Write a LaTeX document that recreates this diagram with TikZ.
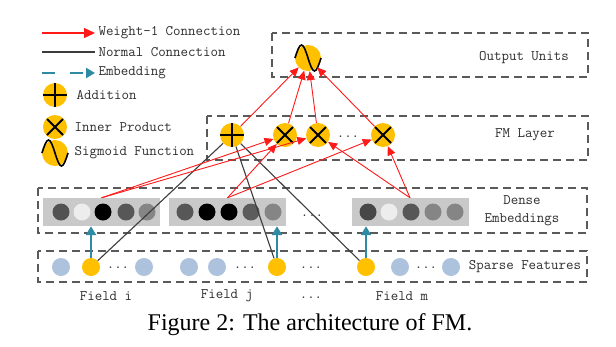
\documentclass[tikz,border=0pt]{standalone}
\usepackage{fontspec}
\setmainfont{Liberation Serif}
\usepackage{tikz}
\usetikzlibrary{arrows.meta,positioning}
\usepackage{xcolor}

\definecolor{fmred}{HTML}{FF1A1A}
\definecolor{fmgold}{HTML}{FFC000}
\definecolor{fmteal}{HTML}{2E8BA3}
\definecolor{fmblue}{HTML}{ADC2DD}
\definecolor{fmbox}{HTML}{5A5A5A}
\definecolor{fmvec}{HTML}{C9C9C9}
\definecolor{fmline}{HTML}{3C3C3C}

\tikzset{
  >={Triangle[length=9pt,width=8pt]},
}

\begin{document}
\begin{tikzpicture}[
  x=1pt,y=-1pt,
  every node/.style={font=\fontsize{14.5}{18}\selectfont\ttfamily, text=black!82},
  layer/.style={draw=fmbox, line width=1.8pt, dash pattern=on 8pt off 5pt},
  unit/.style={circle, fill=fmgold, minimum size=24pt, inner sep=0pt},
  addunit/.style={unit, path picture={
      \draw[line width=1.6pt] (path picture bounding box.north) -- (path picture bounding box.south)
        (path picture bounding box.west) -- (path picture bounding box.east);}},
  dotunit/.style={unit, path picture={
      \draw[line width=1.8pt] ([shift={(-8,-8)}]path picture bounding box.center) -- ([shift={(8,8)}]path picture bounding box.center)
        ([shift={(-8,8)}]path picture bounding box.center) -- ([shift={(8,-8)}]path picture bounding box.center);}},
  sigunit/.style={unit, minimum size=26pt},
  wave/.style={line width=1.6pt},
  vec/.style={fill=fmvec, minimum width=117pt, minimum height=28pt, inner sep=0pt},
  emb/.style={circle, fill=#1, minimum size=17pt, inner sep=0pt},
  feat/.style={circle, fill=#1, minimum size=18pt, inner sep=0pt},
  weight/.style={->, draw=fmred, line width=0.9pt},
  normal/.style={draw=fmline, line width=1.1pt},
  embed/.style={-{Triangle[length=9pt,width=10pt]}, draw=fmteal, line width=2.5pt},
  dots/.style={inner sep=0pt}
]

\fill[white] (0,0) rectangle (616,346);
\useasboundingbox (0,0) rectangle (616,346);

% Legend
\coordinate (lw0) at (42,33);
\coordinate (ln0) at (42,52);
\coordinate (le0) at (42,73);
\node[anchor=west] (lw) at (95,33) {Weight-1 Connection};
\node[anchor=west] (ln) at (95,52) {Normal Connection};
\node[anchor=west] (le) at (95,73) {Embedding};
\node[addunit] (ladd) at (55,95) {};
\node[dotunit] (ldot) at (55,127) {};
\node[sigunit] (lsig) at (55,153) {};
\node[right=6pt of ladd] (laddtxt) {Addition};
\node[right=4pt of ldot] (ldottxt) {Inner Product};
\node[right=3pt of lsig] (lsigtxt) {Sigmoid Function};
\draw[wave] ([xshift=-13pt]lsig.center) sin ++(6.5,-13) cos ++(6.5,13) sin ++(6.5,13) cos ++(6.5,-13);

\draw[weight, line width=1.2pt, -{Triangle[length=11pt,width=10pt]}] (lw0) -- (lw.west);
\draw[normal, line width=1.4pt] (ln0) -- (ln.west);
\draw[embed, dash pattern=on 13pt off 15pt] (le0) -- (le.west);

% Layers
\draw[layer] (272,33) rectangle (588,77);
\draw[layer] (207,116) rectangle (588,160);
\draw[layer] (38,188) rectangle (587,233);
\draw[layer] (38,251) rectangle (587,282);

\node (outtxt) at (524,58) {Output Units};
\node (fmtxt) at (525,135) {FM Layer};
\node[align=center] (densetxt) at (522,211) {Dense\\Embeddings};
\node (sparsetxt) at (525,267) {Sparse Features};

% Output unit
\node[sigunit] (sig) at (308,58) {};
\draw[wave] ([xshift=-13pt]sig.center) sin ++(6.5,-13) cos ++(6.5,13) sin ++(6.5,13) cos ++(6.5,-13);

% FM layer
\node[addunit] (add) at (232,135) {};
\node[dotunit] (ij) at (285,135) {};
\node[dotunit] (im) at (318,135) {};
\node[dots] (fmdots) at (348,137) {...};
\node[dotunit] (jm) at (383,135) {};

% Dense embeddings
\node[vec] (vi) at (101.5,212) {};
\node[vec] (vj) at (227.5,212) {};
\node[dots] (vdots) at (312,216) {...};
\node[vec] (vm) at (410,212) {};

\node[emb=black!68] (i1) at (61,212) {};
\node[emb=black!7] (i2) at (82,212) {};
\node[emb=black] (i3) at (103,212) {};
\node[emb=black!66] (i4) at (126,212) {};
\node[emb=black!48] (i5) at (147,212) {};

\node[emb=black!66] (j1) at (185,212) {};
\node[emb=black] (j2) at (207,212) {};
\node[emb=black] (j3) at (229,212) {};
\node[emb=black!64] (j4) at (251,212) {};
\node[emb=black!48] (j5) at (273,212) {};

\node[emb=black!72] (m1) at (368,212) {};
\node[emb=black!7] (m2) at (389,212) {};
\node[emb=black!66] (m3) at (411,212) {};
\node[emb=black!48] (m4) at (433,212) {};
\node[emb=black!48] (m5) at (455,212) {};

% Sparse features
\node[feat=fmblue] (s1) at (61,267) {};
\node[feat=fmgold] (fi) at (91,267) {};
\node[dots] (sdots1) at (118,268) {...};
\node[feat=fmblue] (s3) at (144,267) {};
\node[feat=fmblue] (s4) at (189,267) {};
\node[feat=fmblue] (s5) at (217,267) {};
\node[dots] (sdots2) at (245,268) {...};
\node[feat=fmgold] (fj) at (277,267) {};
\node[dots] (sdots3) at (311,268) {...};
\node[feat=fmgold] (fm) at (366,267) {};
\node[feat=fmblue] (s8) at (400,267) {};
\node[dots] (sdots4) at (426,268) {...};
\node[feat=fmblue] (s9) at (451,267) {};

\node (fieldi) at (106,296) {Field i};
\node (fieldj) at (227,296) {Field j};
\node[dots] (fielddots) at (311,298) {...};
\node (fieldm) at (402,296) {Field m};

% Connections
\path
(fi) edge[embed] (fi |- vi.south)
(fj) edge[embed] (fj |- vj.south)
(fm) edge[embed] (fm |- vm.south);

\path[normal]
(add) edge (fi)
(add) edge (fj)
(add) edge (fm);

\path
(vi.north) edge[weight] (ij)
(vi.north) edge[weight] (im)
(vj.north) edge[weight] (ij)
(vj.north) edge[weight] (jm)
(vm.north) edge[weight] (im)
(vm.north) edge[weight] (jm)

(add) edge[weight] (sig)
(ij) edge[weight] (sig)
(im) edge[weight] (sig)
(jm) edge[weight] (sig);

% Caption
\node[font=\fontsize{24}{26}\selectfont\rmfamily, text=black, anchor=base] (caption) at (310,330) {Figure 2: The architecture of FM.};

\end{tikzpicture}
\end{document}
